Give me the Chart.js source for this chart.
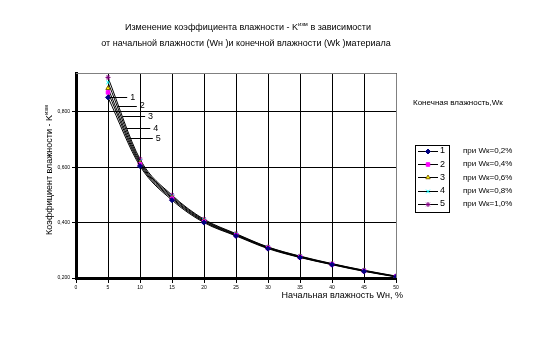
<!DOCTYPE html>
<html lang="ru">
<head>
  <meta charset="UTF-8">
  <title>Коэффициент влажности</title>
  <script src="https://cdn.jsdelivr.net/npm/chart.js"></script>
  <style>
    html, body { margin: 0; padding: 0; background: #fff; }
    #wrap { width: 539px; height: 339px; }
  </style>
</head>
<body>
  <div id="wrap"><canvas id="kChart" width="539" height="339"></canvas></div>

  <script>
    // начальная влажность Wн, %
    const wn = [5, 10, 15, 20, 25, 30, 35, 40, 45, 50];

    // коэффициент влажности для разных Wк
    const k02 = [0.852, 0.604, 0.481, 0.400, 0.352, 0.306, 0.274, 0.248, 0.224, 0.204];
    const k04 = [0.870, 0.610, 0.486, 0.403, 0.354, 0.308, 0.275, 0.249, 0.225, 0.205];
    const k06 = [0.885, 0.616, 0.490, 0.406, 0.356, 0.309, 0.276, 0.250, 0.226, 0.205];
    const k08 = [0.906, 0.622, 0.495, 0.409, 0.358, 0.311, 0.278, 0.251, 0.227, 0.206];
    const k10 = [0.924, 0.629, 0.499, 0.412, 0.360, 0.312, 0.279, 0.252, 0.228, 0.207];

    const seriesNames = ['1', '2', '3', '4', '5'];
    const legendText = ['при Wк=0,2%', 'при Wк=0,4%', 'при Wк=0,6%', 'при Wк=0,8%', 'при Wк=1,0%'];
    const xTicks = [0, 5, 10, 15, 20, 25, 30, 35, 40, 45, 50];
    const yTicks = [0.2, 0.4, 0.6, 0.8];

    const FONT = '"Liberation Sans", Arial, sans-serif';

    const styles = [
      { color: '#000080', border: '#000080', shape: 'rectRot', r: 2.5 },
      { color: '#FF00FF', border: '#FF00FF', shape: 'rect', r: 2.5 },
      { color: '#FFFF00', border: '#806000', shape: 'triangle', r: 2.5 },
      { color: '#00FFFF', border: '#00FFFF', shape: 'crossRot', r: 2.5 },
      { color: '#800080', border: '#800080', shape: 'star', r: 2.5 }
    ];

    const allSeries = [k02, k04, k06, k08, k10];

    const datasets = allSeries.map((vals, i) => ({
      label: seriesNames[i],
      data: vals.map((v, j) => ({ x: wn[j], y: v })),
      borderColor: '#000',
      borderWidth: 1,
      tension: 0.4,
      cubicInterpolationMode: 'monotone',
      pointStyle: styles[i].shape,
      pointRadius: styles[i].r,
      pointBackgroundColor: styles[i].color,
      pointBorderColor: styles[i].border,
      pointBorderWidth: 1
    }));

    // подписи 1..5 с выносками (в координатах данных)
    const calloutFrom = [[5.3, 0.852], [6.5, 0.822], [7.3, 0.783], [7.9, 0.740], [8.4, 0.704]];
    const calloutTo = [[8.0, 0.852], [9.5, 0.822], [10.8, 0.783], [11.6, 0.740], [12.0, 0.704]];

    function drawText(ctx, parts, x, y, size) {
      // parts: [text, isSup]
      let w = 0;
      parts.forEach(p => {
        ctx.font = (p[1] ? size * 0.65 : size) + 'px ' + FONT;
        w += ctx.measureText(p[0]).width;
      });
      let cx = x - w / 2;
      parts.forEach(p => {
        ctx.font = (p[1] ? size * 0.65 : size) + 'px ' + FONT;
        ctx.fillText(p[0], cx, p[1] ? y - size * 0.4 : y);
        cx += ctx.measureText(p[0]).width;
      });
    }

    const extras = {
      id: 'extras',
      afterDraw(chart) {
        const ctx = chart.ctx;
        const a = chart.chartArea;
        const xs = chart.scales.x, ys = chart.scales.y;
        ctx.save();

        // серая рамка сверху и справа
        ctx.strokeStyle = '#808080';
        ctx.lineWidth = 1;
        ctx.beginPath();
        ctx.moveTo(a.left, a.top + 0.5);
        ctx.lineTo(a.right + 0.5, a.top + 0.5);
        ctx.lineTo(a.right + 0.5, a.bottom);
        ctx.stroke();

        // заголовок
        ctx.fillStyle = '#000';
        ctx.textBaseline = 'middle';
        drawText(ctx, [['Изменение коэффициента влажности - K', false], ['изм', true], [' в зависимости', false]], 248, 28, 9);
        drawText(ctx, [['от начальной влажности (Wн )и конечной влажности (Wk )материала', false]], 246, 44, 9);

        // подпись оси X
        ctx.font = '9px ' + FONT;
        ctx.textAlign = 'right';
        ctx.fillText('Начальная влажность Wн, %', 403, 296);
        ctx.textAlign = 'left';

        // подпись оси Y
        ctx.save();
        ctx.translate(50, 170);
        ctx.rotate(-Math.PI / 2);
        drawText(ctx, [['Коэффициент влажности - K', false], ['изм', true]], 0, 0, 9);
        ctx.restore();

        // выноски 1..5
        ctx.strokeStyle = '#000';
        ctx.lineWidth = 1;
        ctx.font = '9px ' + FONT;
        calloutFrom.forEach((f, i) => {
          const x1 = xs.getPixelForValue(f[0]), y1 = ys.getPixelForValue(f[1]);
          const x2 = xs.getPixelForValue(calloutTo[i][0]), y2 = ys.getPixelForValue(calloutTo[i][1]);
          ctx.beginPath();
          ctx.moveTo(x1, Math.round(y1) + 0.5);
          ctx.lineTo(x2, Math.round(y2) + 0.5);
          ctx.stroke();
          ctx.fillText(seriesNames[i], x2 + 3, y2);
        });

        // легенда
        ctx.font = '8px ' + FONT;
        ctx.fillText('Конечная влажность,Wк', 413, 103);
        ctx.strokeRect(415.5, 145.5, 34, 67);
        chart.data.datasets.forEach((ds, i) => {
          const y = 151 + i * 13.2;
          ctx.strokeStyle = '#000';
          ctx.beginPath();
          ctx.moveTo(418, Math.round(y) + 0.5);
          ctx.lineTo(438, Math.round(y) + 0.5);
          ctx.stroke();
          ctx.fillStyle = ds.pointBackgroundColor;
          ctx.strokeStyle = ds.pointBorderColor;
          ctx.beginPath();
          Chart.helpers.drawPoint(ctx, {
            pointStyle: ds.pointStyle, radius: ds.pointRadius,
            borderWidth: 1, rotation: 0
          }, 428, Math.round(y) + 0.5);
          ctx.fillStyle = '#000';
          ctx.font = '9px ' + FONT;
          ctx.fillText(ds.label, 440, y);
          ctx.font = '8px ' + FONT;
          ctx.fillText(legendText[i], 463, y);
        });

        ctx.restore();
      }
    };

    new Chart(document.getElementById('kChart').getContext('2d'), {
      type: 'line',
      data: { datasets: datasets },
      options: {
        responsive: false,
        animation: false,
        layout: { padding: { top: 73, right: 143, left: 0, bottom: 0 } },
        plugins: { legend: { display: false }, title: { display: false }, tooltip: { enabled: false } },
        scales: {
          x: {
            type: 'linear',
            min: 0, max: 50,
            afterFit: s => { s.height = 61; },
            afterBuildTicks: s => { s.ticks = xTicks.map(v => ({ value: v })); },
            grid: { color: '#000', lineWidth: 1, tickLength: 5, tickColor: '#000' },
            border: { color: '#000', width: 3 },
            ticks: { color: '#000', font: { size: 5, family: FONT }, padding: 2, maxRotation: 0 }
          },
          y: {
            min: 0.2, max: 0.94,
            afterFit: s => { s.width = 76; },
            afterBuildTicks: s => { s.ticks = yTicks.map(v => ({ value: v })); },
            grid: { color: '#000', lineWidth: 1, tickLength: 4, tickColor: '#000' },
            border: { color: '#000', width: 3 },
            ticks: {
              color: '#000', font: { size: 5, family: FONT }, padding: 2,
              callback: v => v.toFixed(3).replace('.', ',')
            }
          }
        }
      },
      plugins: [extras]
    });
  </script>
</body>
</html>
